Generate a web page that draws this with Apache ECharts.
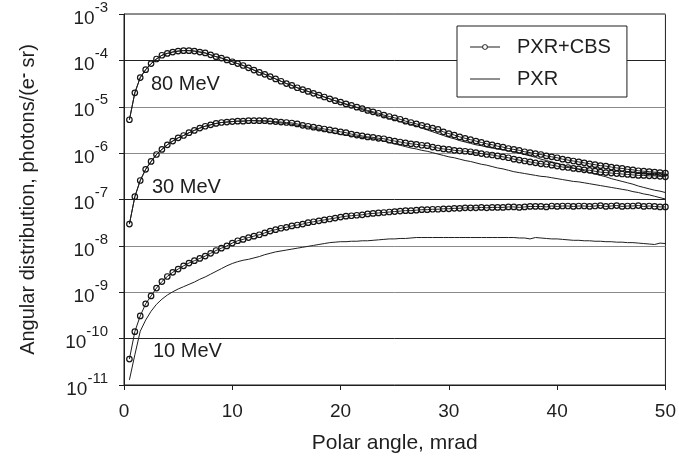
<!DOCTYPE html>
<html><head><meta charset="utf-8">
<script src="https://cdn.jsdelivr.net/npm/echarts@6/dist/echarts.min.js"></script>
<style>html,body{margin:0;padding:0;background:#fff}#c{width:679px;height:459px}</style>
</head><body><div id="c"></div>
<script>
// Polar angle, mrad (sample grid)
const angles = [
 0.5,1,1.5,2,2.5,3,3.5,4,4.5,5, 5.5,6,6.5,7,7.5,8,8.5,9,9.5,10,
 10.5,11,11.5,12,12.5,13,13.5,14,14.5,15, 15.5,16,16.5,17,17.5,18,18.5,19,19.5,20,
 20.5,21,21.5,22,22.5,23,23.5,24,24.5,25, 25.5,26,26.5,27,27.5,28,28.5,29,29.5,30,
 30.5,31,31.5,32,32.5,33,33.5,34,34.5,35, 35.5,36,36.5,37,37.5,38,38.5,39,39.5,40,
 40.5,41,41.5,42,42.5,43,43.5,44,44.5,45, 45.5,46,46.5,47,47.5,48,48.5,49,49.5,50];

// log10 of angular distribution, photons/(e- sr)
const cbs80Log = [
 -5.28,-4.70,-4.37,-4.20,-4.07,-3.97,-3.89,-3.85,-3.82,-3.80,
 -3.79,-3.79,-3.80,-3.82,-3.84,-3.88,-3.92,-3.95,-3.99,-4.03,
 -4.07,-4.11,-4.16,-4.21,-4.26,-4.30,-4.35,-4.40,-4.45,-4.50,
 -4.54,-4.59,-4.63,-4.67,-4.71,-4.75,-4.79,-4.83,-4.87,-4.90,
 -4.94,-4.97,-5.01,-5.04,-5.08,-5.11,-5.14,-5.18,-5.21,-5.24,
 -5.27,-5.31,-5.34,-5.37,-5.40,-5.43,-5.46,-5.49,-5.54,-5.58,
 -5.61,-5.65,-5.68,-5.71,-5.74,-5.77,-5.80,-5.82,-5.85,-5.87,
 -5.90,-5.92,-5.94,-5.97,-5.99,-6.01,-6.03,-6.06,-6.08,-6.10,
 -6.13,-6.15,-6.17,-6.19,-6.21,-6.23,-6.25,-6.27,-6.28,-6.30,
 -6.32,-6.33,-6.35,-6.36,-6.38,-6.39,-6.40,-6.41,-6.42,-6.43];
const pxr80Log = [
 -5.28,-4.70,-4.37,-4.20,-4.07,-3.97,-3.89,-3.85,-3.82,-3.80,
 -3.79,-3.79,-3.80,-3.82,-3.84,-3.88,-3.92,-3.95,-3.99,-4.03,
 -4.07,-4.11,-4.16,-4.21,-4.26,-4.30,-4.35,-4.40,-4.45,-4.50,
 -4.54,-4.59,-4.63,-4.67,-4.71,-4.75,-4.79,-4.83,-4.87,-4.91,
 -4.95,-4.98,-5.02,-5.06,-5.10,-5.13,-5.17,-5.21,-5.25,-5.28,
 -5.32,-5.35,-5.38,-5.41,-5.46,-5.50,-5.54,-5.58,-5.62,-5.66,
 -5.69,-5.73,-5.76,-5.79,-5.82,-5.84,-5.87,-5.89,-5.91,-5.93,
 -5.95,-5.97,-6.00,-6.03,-6.06,-6.09,-6.13,-6.16,-6.19,-6.22,
 -6.25,-6.29,-6.32,-6.35,-6.38,-6.42,-6.45,-6.48,-6.51,-6.55,
 -6.58,-6.61,-6.64,-6.67,-6.71,-6.74,-6.77,-6.80,-6.82,-6.85];
const cbs30Log = [
 -7.53,-6.94,-6.59,-6.35,-6.18,-6.03,-5.92,-5.82,-5.74,-5.67,
 -5.62,-5.56,-5.51,-5.46,-5.42,-5.39,-5.36,-5.34,-5.33,-5.32,
 -5.31,-5.31,-5.30,-5.30,-5.30,-5.30,-5.31,-5.32,-5.33,-5.34,
 -5.35,-5.37,-5.40,-5.42,-5.44,-5.46,-5.48,-5.50,-5.52,-5.54,
 -5.56,-5.59,-5.61,-5.63,-5.65,-5.66,-5.68,-5.69,-5.72,-5.74,
 -5.76,-5.78,-5.80,-5.81,-5.83,-5.84,-5.87,-5.89,-5.91,-5.92,
 -5.94,-5.95,-5.96,-5.97,-5.99,-6.01,-6.03,-6.04,-6.06,-6.08,
 -6.10,-6.13,-6.15,-6.17,-6.19,-6.21,-6.23,-6.24,-6.26,-6.28,
 -6.30,-6.31,-6.33,-6.34,-6.36,-6.37,-6.39,-6.41,-6.42,-6.43,
 -6.44,-6.45,-6.46,-6.47,-6.48,-6.48,-6.49,-6.49,-6.50,-6.51];
const pxr30Log = [
 -7.53,-6.94,-6.59,-6.35,-6.18,-6.03,-5.92,-5.82,-5.74,-5.67,
 -5.62,-5.56,-5.51,-5.46,-5.42,-5.39,-5.36,-5.34,-5.33,-5.32,
 -5.31,-5.31,-5.30,-5.30,-5.31,-5.31,-5.32,-5.34,-5.35,-5.36,
 -5.38,-5.40,-5.42,-5.44,-5.47,-5.49,-5.52,-5.55,-5.57,-5.60,
 -5.61,-5.63,-5.64,-5.66,-5.67,-5.69,-5.71,-5.74,-5.77,-5.80,
 -5.83,-5.86,-5.89,-5.91,-5.94,-5.96,-5.99,-6.02,-6.05,-6.08,
 -6.10,-6.13,-6.16,-6.18,-6.21,-6.24,-6.26,-6.29,-6.32,-6.34,
 -6.37,-6.40,-6.42,-6.44,-6.46,-6.48,-6.50,-6.51,-6.53,-6.55,
 -6.57,-6.59,-6.61,-6.62,-6.64,-6.66,-6.68,-6.70,-6.72,-6.74,
 -6.76,-6.78,-6.80,-6.83,-6.85,-6.88,-6.90,-6.93,-6.96,-6.99];
const cbs10Log = [
 -10.44,-9.85,-9.51,-9.25,-9.08,-8.91,-8.77,-8.66,-8.57,-8.50,
 -8.43,-8.37,-8.32,-8.27,-8.22,-8.16,-8.10,-8.05,-8.00,-7.94,
 -7.89,-7.86,-7.82,-7.79,-7.76,-7.72,-7.68,-7.65,-7.62,-7.60,
 -7.57,-7.55,-7.53,-7.50,-7.48,-7.46,-7.44,-7.42,-7.40,-7.38,
 -7.36,-7.35,-7.34,-7.33,-7.31,-7.30,-7.29,-7.28,-7.27,-7.26,
 -7.25,-7.24,-7.24,-7.23,-7.22,-7.22,-7.21,-7.21,-7.20,-7.20,
 -7.19,-7.19,-7.18,-7.18,-7.18,-7.17,-7.18,-7.17,-7.17,-7.17,
 -7.16,-7.16,-7.17,-7.16,-7.15,-7.15,-7.15,-7.16,-7.14,-7.15,
 -7.14,-7.14,-7.15,-7.14,-7.14,-7.15,-7.14,-7.13,-7.15,-7.14,
 -7.13,-7.15,-7.14,-7.14,-7.13,-7.15,-7.14,-7.15,-7.16,-7.16];
const pxr10Log = [
 -10.89,-10.35,-9.84,-9.60,-9.41,-9.26,-9.15,-9.06,-8.99,-8.93,
 -8.88,-8.83,-8.78,-8.72,-8.67,-8.61,-8.55,-8.49,-8.43,-8.38,
 -8.34,-8.31,-8.29,-8.26,-8.23,-8.19,-8.16,-8.13,-8.11,-8.09,
 -8.07,-8.05,-8.03,-8.01,-7.99,-7.97,-7.95,-7.93,-7.92,-7.91,
 -7.91,-7.90,-7.90,-7.89,-7.89,-7.88,-7.87,-7.86,-7.85,-7.85,
 -7.84,-7.84,-7.83,-7.82,-7.82,-7.82,-7.82,-7.82,-7.82,-7.82,
 -7.82,-7.82,-7.82,-7.82,-7.82,-7.82,-7.82,-7.82,-7.82,-7.82,
 -7.82,-7.82,-7.83,-7.83,-7.85,-7.82,-7.83,-7.84,-7.85,-7.85,
 -7.86,-7.87,-7.88,-7.88,-7.89,-7.89,-7.90,-7.90,-7.91,-7.91,
 -7.92,-7.92,-7.93,-7.93,-7.94,-7.95,-7.96,-7.97,-7.94,-7.95];

const seriesNames = ['PXR+CBS', 'PXR'];
const energyLabels = ['80 MeV', '30 MeV', '10 MeV'];

const FONT = '"Liberation Sans", Arial, Helvetica, sans-serif';
const INK = '#1e1e1e';
const toPairs = arr => arr.map((e, i) => [angles[i], Math.pow(10, e)]);

// legend icons: plain line, and line with a small open circle
const ICON_LINE = 'path://M0,3.5L30,3.5L30,4.5L0,4.5Z';
const ICON_LINE_CIRCLE = 'path://M0,3.5L12.3,3.5L12.3,4.5L0,4.5Z M17.7,3.5L30,3.5L30,4.5L17.7,4.5Z ' +
  'M17.8,4A2.8,2.8,0,1,0,12.2,4A2.8,2.8,0,1,0,17.8,4Z M16.9,4A1.9,1.9,0,1,1,13.1,4A1.9,1.9,0,1,1,16.9,4Z';

function pxr(arr) {
  return { name: seriesNames[1], type: 'line', data: toPairs(arr), symbol: 'none',
    lineStyle: { color: INK, width: 1 }, itemStyle: { color: INK }, z: 2, silent: true };
}
function cbs(arr) {
  return { name: seriesNames[0], type: 'line', data: toPairs(arr), symbol: 'circle',
    symbolSize: 5.5, showAllSymbol: true,
    lineStyle: { color: INK, width: 1 },
    itemStyle: { color: 'rgba(255,255,255,0)', borderColor: '#141414', borderWidth: 1.2 }, z: 3, silent: true };
}

const chart = echarts.init(document.getElementById('c'), null, { renderer: 'canvas' });
chart.setOption({
  animation: false,
  backgroundColor: '#fff',
  textStyle: { fontFamily: FONT, color: INK },
  grid: { left: 124, right: 13, top: 14, bottom: 74, show: true, borderColor: INK, borderWidth: 1 },
  legend: {
    data: [{ name: seriesNames[0], icon: ICON_LINE_CIRCLE }, { name: seriesNames[1], icon: ICON_LINE }],
    symbolKeepAspect: true,
    orient: 'vertical', left: 457, top: 26,
    itemWidth: 30, itemHeight: 8, itemGap: 10, padding: [10, 16, 7, 13],
    backgroundColor: '#fff', borderColor: INK, borderWidth: 1, borderRadius: 0,
    selectedMode: false,
    itemStyle: { borderWidth: 0, color: INK },
    textStyle: { fontFamily: FONT, fontSize: 20, color: INK, lineHeight: 22, padding: [0, 0, 0, 12] }
  },
  xAxis: {
    type: 'value', min: 0, max: 50, interval: 10,
    axisLine: { show: true, onZero: false, lineStyle: { color: INK, width: 1 } },
    axisTick: { show: true, inside: false, length: 5, lineStyle: { color: INK } },
    axisLabel: { fontFamily: FONT, fontSize: 19, color: INK, margin: 17 },
    splitLine: { show: false },
    name: 'Polar angle, mrad', nameLocation: 'middle', nameGap: 48,
    nameTextStyle: { fontFamily: FONT, fontSize: 21, color: INK }
  },
  yAxis: {
    type: 'log', logBase: 10, min: 1e-11, max: 1e-3, splitNumber: 8,
    axisLine: { show: true, lineStyle: { color: INK, width: 1 } },
    axisTick: { show: true, inside: false, length: 5, lineStyle: { color: INK } },
    splitLine: { show: true, lineStyle: { color: ['#8a8a8a', '#222', '#8a8a8a'], width: 1 } },
    axisLabel: {
      fontFamily: FONT, color: INK, margin: 16,
      formatter: v => '{b|10}{s|' + Math.round(Math.log10(v)) + '}',
      rich: {
        b: { fontFamily: FONT, fontSize: 19, color: INK, lineHeight: 28, verticalAlign: 'bottom' },
        s: { fontFamily: FONT, fontSize: 15, color: INK, lineHeight: 15, verticalAlign: 'top' }
      }
    },
    name: 'Angular distribution, photons/(e{sup|-} sr)', nameLocation: 'middle', nameGap: 84,
    nameTextStyle: {
      fontFamily: FONT, fontSize: 20, color: INK, lineHeight: 24,
      rich: { sup: { fontFamily: FONT, fontSize: 15, fontWeight: 'bold', color: INK, lineHeight: 12, verticalAlign: 'top' } }
    }
  },
  graphic: [
    { type: 'text', left: 151, top: 74, style: { text: energyLabels[0], font: '20px ' + FONT, fill: INK } },
    { type: 'text', left: 152, top: 177, style: { text: energyLabels[1], font: '20px ' + FONT, fill: INK } },
    { type: 'text', left: 153, top: 341, style: { text: energyLabels[2], font: '20px ' + FONT, fill: INK } }
  ],
  series: [
    pxr(pxr80Log), pxr(pxr30Log), pxr(pxr10Log),
    cbs(cbs80Log), cbs(cbs30Log), cbs(cbs10Log)
  ]
});
</script>
</body></html>
